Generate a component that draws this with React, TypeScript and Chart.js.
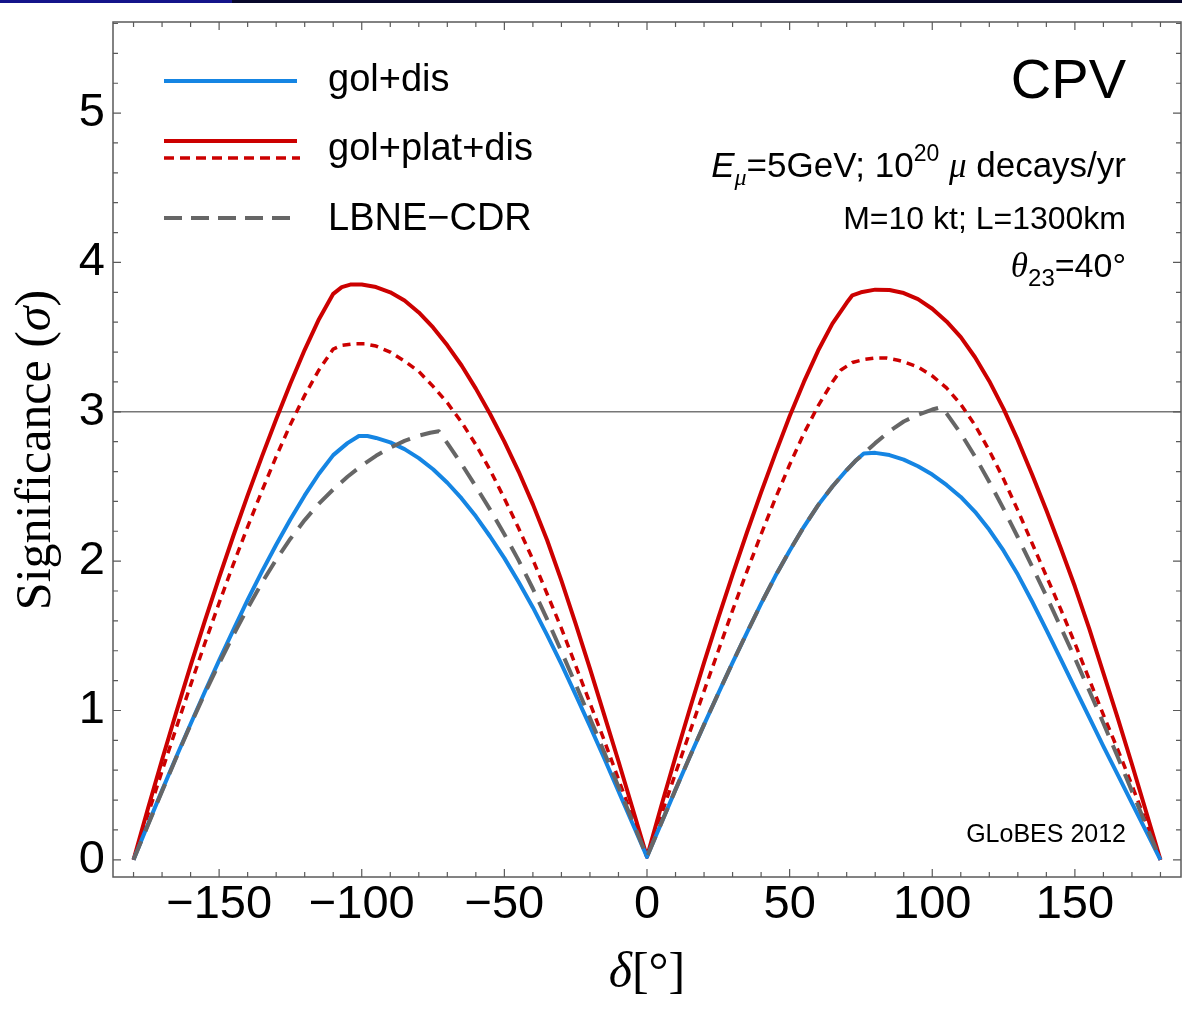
import { useEffect, useRef } from 'react';
import { Chart, registerables } from 'chart.js';

Chart.register(...registerables);

const W = 1182;
const H = 1013;

// ---- data (delta in degrees, significance in sigma) ----
const RED_SOLID_X = [-180,-175,-170,-165,-160,-155,-150,-145,-140,-135,-130,-125,-120,-115,-110,-107,-104,-100,-95,-90,-85,-80,-75,-70,-65,-60,-55,-50,-45,-40,-35,-30,-25,-20,-15,-10,-5,0,5,10,15,20,25,30,35,40,45,50,55,60,65,70,72,75,80,85,90,95,100,105,110,115,120,125,130,135,140,145,150,155,160,165,170,175,180];
const RED_SOLID_Y = [0,0.34,0.67,0.99,1.30,1.60,1.89,2.17,2.44,2.70,2.95,3.19,3.415,3.62,3.79,3.835,3.852,3.852,3.835,3.80,3.745,3.665,3.565,3.445,3.31,3.155,2.985,2.80,2.60,2.38,2.14,1.87,1.58,1.28,0.97,0.66,0.34,0.02,0.36,0.69,1.01,1.32,1.62,1.91,2.19,2.46,2.72,2.97,3.20,3.41,3.59,3.73,3.78,3.80,3.818,3.815,3.795,3.755,3.69,3.605,3.50,3.365,3.205,3.02,2.81,2.58,2.34,2.09,1.83,1.55,1.25,0.95,0.64,0.32,0];

const RED_DOTTED_X = [-180,-175,-170,-165,-160,-155,-150,-145,-140,-135,-130,-125,-120,-115,-110,-107,-103,-99,-95,-90,-85,-80,-75,-70,-65,-60,-55,-50,-45,-40,-35,-30,-25,-20,-15,-10,-5,0,5,10,15,20,25,30,35,40,45,50,55,60,65,68,72,76,80,84,88,90,95,100,105,110,115,120,125,130,135,140,145,150,155,160,165,170,175,180];
const RED_DOTTED_Y = [0,0.30,0.595,0.885,1.17,1.45,1.72,1.98,2.23,2.47,2.70,2.915,3.11,3.28,3.42,3.445,3.455,3.455,3.44,3.40,3.34,3.27,3.17,3.06,2.93,2.78,2.61,2.42,2.22,2.01,1.78,1.55,1.30,1.05,0.80,0.54,0.28,0.02,0.30,0.58,0.855,1.13,1.40,1.67,1.93,2.18,2.42,2.645,2.855,3.04,3.20,3.28,3.33,3.35,3.36,3.36,3.345,3.335,3.30,3.24,3.16,3.05,2.91,2.74,2.55,2.34,2.12,1.90,1.68,1.45,1.21,0.97,0.74,0.50,0.25,0];

const BLUE_X = [-180,-175,-170,-165,-160,-155,-150,-145,-140,-135,-130,-125,-120,-115,-110,-105,-101,-98,-95,-90,-85,-80,-75,-70,-65,-60,-55,-50,-45,-40,-35,-30,-25,-20,-15,-10,-5,0,5,10,15,20,25,30,35,40,45,50,55,60,65,70,73,76,80,85,90,95,100,105,110,115,120,125,130,135,140,145,150,155,160,165,170,175,180];
const BLUE_Y = [0,0.235,0.465,0.69,0.91,1.125,1.335,1.54,1.74,1.93,2.11,2.28,2.44,2.585,2.71,2.79,2.838,2.838,2.825,2.795,2.75,2.69,2.615,2.525,2.42,2.30,2.165,2.02,1.86,1.69,1.505,1.31,1.105,0.895,0.68,0.46,0.24,0.02,0.245,0.47,0.69,0.905,1.115,1.32,1.52,1.715,1.90,2.07,2.23,2.375,2.50,2.61,2.67,2.72,2.725,2.71,2.68,2.635,2.58,2.51,2.43,2.33,2.21,2.07,1.91,1.73,1.54,1.345,1.15,0.955,0.76,0.57,0.38,0.19,0];

const GRAY_X = [-180,-175,-170,-165,-160,-155,-150,-145,-140,-135,-130,-125,-120,-115,-110,-105,-100,-95,-90,-85,-80,-76,-73,-70,-65,-60,-55,-50,-45,-40,-35,-30,-25,-20,-15,-10,-5,0,5,10,15,20,25,30,35,40,45,50,55,60,65,70,73,76,80,85,90,95,100,103,105,110,115,120,125,130,135,140,145,150,155,160,165,170,175,180];
const GRAY_Y = [0,0.23,0.46,0.685,0.905,1.115,1.315,1.505,1.685,1.855,2.01,2.15,2.275,2.385,2.48,2.565,2.64,2.705,2.76,2.805,2.84,2.86,2.87,2.79,2.65,2.50,2.345,2.18,2.005,1.815,1.61,1.395,1.175,0.95,0.72,0.49,0.255,0.02,0.245,0.47,0.69,0.905,1.115,1.32,1.52,1.715,1.90,2.07,2.23,2.375,2.50,2.61,2.67,2.72,2.79,2.87,2.935,2.98,3.015,3.03,2.99,2.855,2.70,2.53,2.35,2.16,1.965,1.765,1.56,1.35,1.135,0.915,0.69,0.46,0.23,0];

const X_TICKS = [-150, -100, -50, 0, 50, 100, 150];
const Y_TICKS = [0, 1, 2, 3, 4, 5];
const LEGEND_LABELS = ['gol+dis', 'gol+plat+dis', 'LBNE\u2212CDR'];
const THRESHOLD = 3;

const BLUE = '#1585e3';
const RED = '#cc0000';
const GRAY = '#666666';
const SANS = '"Liberation Sans", Arial, sans-serif';
const SERIF = '"Liberation Serif", "Times New Roman", serif';

const toPts = (xs: number[], ys: number[]) => xs.map((x, i) => ({ x, y: ys[i] }));
const fmt = (v: number) => (v < 0 ? '\u2212' + Math.abs(v) : String(v));

type Run = { t: string; font: string; dy?: number };

function runsWidth(ctx: CanvasRenderingContext2D, runs: Run[]) {
  let w = 0;
  for (const r of runs) {
    ctx.font = r.font;
    w += ctx.measureText(r.t).width;
  }
  return w;
}

function drawRuns(ctx: CanvasRenderingContext2D, runs: Run[], xStart: number, baseline: number) {
  let x = xStart;
  ctx.textAlign = 'left';
  ctx.textBaseline = 'alphabetic';
  for (const r of runs) {
    ctx.font = r.font;
    ctx.fillText(r.t, x, baseline + (r.dy || 0));
    x += ctx.measureText(r.t).width;
  }
}

function drawRight(ctx: CanvasRenderingContext2D, runs: Run[], xRight: number, baseline: number) {
  drawRuns(ctx, runs, xRight - runsWidth(ctx, runs), baseline);
}

const overlay = {
  id: 'overlay',
  beforeDatasetsDraw(chart: any) {
    const ctx: CanvasRenderingContext2D = chart.ctx;
    const { left, right } = chart.chartArea;
    const y = chart.scales.y.getPixelForValue(THRESHOLD);
    ctx.save();
    ctx.strokeStyle = '#777777';
    ctx.lineWidth = 1.5;
    ctx.beginPath();
    ctx.moveTo(left, y);
    ctx.lineTo(right, y);
    ctx.stroke();
    ctx.restore();
  },
  afterDraw(chart: any) {
    const ctx: CanvasRenderingContext2D = chart.ctx;
    const { left, right, top, bottom } = chart.chartArea;
    const xs = chart.scales.x;
    const ys = chart.scales.y;
    ctx.save();

    // top bar
    ctx.fillStyle = '#07072a';
    ctx.fillRect(0, 0, W, 3);
    ctx.fillStyle = '#14148a';
    ctx.fillRect(0, 0, 232, 3);

    // frame
    ctx.strokeStyle = '#5a5a5a';
    ctx.lineWidth = 1.5;
    ctx.strokeRect(left, top, right - left, bottom - top);

    // ticks
    ctx.lineWidth = 1.2;
    ctx.beginPath();
    for (let v = -180; v <= 180; v += 10) {
      const p = xs.getPixelForValue(v);
      const len = v % 50 === 0 ? 8 : 5;
      ctx.moveTo(p, bottom);
      ctx.lineTo(p, bottom - len);
      ctx.moveTo(p, top);
      ctx.lineTo(p, top + len);
    }
    for (let i = 0; i <= 28; i++) {
      const v = i * 0.2;
      if (v > ys.max) break;
      const p = ys.getPixelForValue(v);
      const len = i % 5 === 0 ? 8 : 5;
      ctx.moveTo(left, p);
      ctx.lineTo(left + len, p);
      ctx.moveTo(right, p);
      ctx.lineTo(right - len, p);
    }
    ctx.stroke();

    // legend
    const lx0 = 164;
    const lx1 = 297;
    ctx.lineCap = 'butt';
    ctx.lineWidth = 4;
    ctx.strokeStyle = BLUE;
    ctx.setLineDash([]);
    ctx.beginPath(); ctx.moveTo(lx0, 81); ctx.lineTo(lx1, 81); ctx.stroke();
    ctx.strokeStyle = RED;
    ctx.beginPath(); ctx.moveTo(lx0, 141); ctx.lineTo(lx1, 141); ctx.stroke();
    ctx.lineWidth = 3.5;
    ctx.setLineDash([10, 6]);
    ctx.beginPath(); ctx.moveTo(lx0, 158); ctx.lineTo(lx1 + 3, 158); ctx.stroke();
    ctx.strokeStyle = GRAY;
    ctx.lineWidth = 4;
    ctx.setLineDash([18, 9]);
    ctx.beginPath(); ctx.moveTo(lx0, 218); ctx.lineTo(lx1, 218); ctx.stroke();
    ctx.setLineDash([]);

    ctx.fillStyle = '#000';
    const lf = `38px ${SANS}`;
    drawRuns(ctx, [{ t: LEGEND_LABELS[0], font: lf }], 328, 91);
    drawRuns(ctx, [{ t: LEGEND_LABELS[1], font: lf }], 328, 160);
    drawRuns(ctx, [{ t: LEGEND_LABELS[2], font: lf }], 328, 230);

    // annotations
    const xr = 1126;
    drawRight(ctx, [{ t: 'CPV', font: `56px ${SANS}` }], xr, 98);
    const f1 = `35px ${SANS}`;
    drawRight(ctx, [
      { t: 'E', font: `italic 35px ${SANS}` },
      { t: '\u03bc', font: `italic 24px ${SERIF}`, dy: 8 },
      { t: '=5GeV; 10', font: f1 },
      { t: '20', font: `23px ${SANS}`, dy: -16 },
      { t: ' ', font: f1 },
      { t: '\u03bc', font: `italic 35px ${SERIF}` },
      { t: ' decays/yr', font: f1 },
    ], xr, 177);
    drawRight(ctx, [{ t: 'M=10 kt; L=1300km', font: `32px ${SANS}` }], xr, 229);
    drawRight(ctx, [
      { t: '\u03b8', font: `italic 35px ${SERIF}` },
      { t: '23', font: `24px ${SANS}`, dy: 9 },
      { t: '=40\u00b0', font: `34px ${SANS}` },
    ], xr, 277);
    drawRight(ctx, [{ t: 'GLoBES 2012', font: `25px ${SANS}` }], xr, 842);

    // x axis title
    const xt: Run[] = [
      { t: '\u03b4', font: `italic 50px ${SERIF}` },
      { t: '[\u00b0]', font: `50px ${SERIF}` },
    ];
    const cx = xs.getPixelForValue(0);
    drawRuns(ctx, xt, cx - runsWidth(ctx, xt) / 2, 987);

    // y axis title
    const yt: Run[] = [
      { t: 'Significance (', font: `50px ${SERIF}` },
      { t: '\u03c3', font: `italic 50px ${SERIF}` },
      { t: ')', font: `50px ${SERIF}` },
    ];
    ctx.translate(50, 450);
    ctx.rotate(-Math.PI / 2);
    drawRuns(ctx, yt, -runsWidth(ctx, yt) / 2, 0);

    ctx.restore();
  },
};

export default function App() {
  const ref = useRef<HTMLCanvasElement>(null);

  useEffect(() => {
    const canvas = ref.current;
    if (!canvas) return;
    const tickFont = { family: SANS, size: 47 };
    const line = { pointRadius: 0, tension: 0, borderJoinStyle: 'round' as const };
    const chart = new Chart(canvas, {
      type: 'line',
      data: {
        datasets: [
          {
            label: LEGEND_LABELS[2],
            data: toPts(GRAY_X, GRAY_Y),
            borderColor: GRAY,
            borderWidth: 4,
            borderDash: [20, 11],
            ...line,
          },
          {
            label: LEGEND_LABELS[0],
            data: toPts(BLUE_X, BLUE_Y),
            borderColor: BLUE,
            borderWidth: 4,
            ...line,
          },
          {
            label: LEGEND_LABELS[1] + ' (dotted)',
            data: toPts(RED_DOTTED_X, RED_DOTTED_Y),
            borderColor: RED,
            borderWidth: 3.5,
            borderDash: [8, 6],
            ...line,
          },
          {
            label: LEGEND_LABELS[1],
            data: toPts(RED_SOLID_X, RED_SOLID_Y),
            borderColor: RED,
            borderWidth: 4,
            ...line,
          },
        ],
      },
      options: {
        responsive: false,
        animation: false,
        devicePixelRatio: 1,
        layout: { padding: { top: 22, right: 1, left: 0, bottom: 0 } },
        plugins: { legend: { display: false }, tooltip: { enabled: false } },
        scales: {
          x: {
            type: 'linear',
            min: -187.2,
            max: 187.2,
            grid: { display: false, drawTicks: false },
            border: { display: false },
            afterBuildTicks: (s: any) => { s.ticks = X_TICKS.map((v) => ({ value: v })); },
            afterFit: (s: any) => { s.height = 136; s.paddingLeft = 0; s.paddingRight = 0; },
            ticks: { font: tickFont, color: '#000', padding: 0, maxRotation: 0, autoSkip: false, callback: (v: any) => fmt(Number(v)) },
          },
          y: {
            type: 'linear',
            min: -0.115,
            max: 5.61,
            grid: { display: false, drawTicks: false },
            border: { display: false },
            afterBuildTicks: (s: any) => { s.ticks = Y_TICKS.map((v) => ({ value: v })); },
            afterFit: (s: any) => { s.width = 113; s.paddingTop = 0; s.paddingBottom = 0; },
            ticks: { font: tickFont, color: '#000', padding: 8, autoSkip: false, callback: (v: any) => fmt(Number(v)) },
          },
        },
      } as any,
      plugins: [overlay],
    });
    return () => chart.destroy();
  }, []);

  return (
    <div style={{ position: 'fixed', left: 0, top: 0, width: W, height: H, background: '#fff' }}>
      <canvas ref={ref} width={W} height={H} style={{ display: 'block', width: W, height: H }} />
    </div>
  );
}
